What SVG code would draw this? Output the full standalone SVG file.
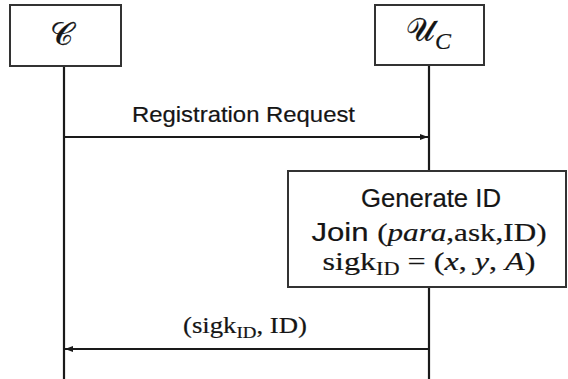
<svg xmlns="http://www.w3.org/2000/svg" width="568" height="379" viewBox="0 0 568 379">
  <style>
    .box{fill:#ffffff;stroke:#333333;stroke-width:2}
    .life{stroke:#1a1a1a;stroke-width:2.2;fill:none}
    .msg{stroke:#1a1a1a;stroke-width:2;fill:none}
    .sans{font-family:"Liberation Sans",Arial,sans-serif;fill:#151515;stroke:#151515;stroke-width:0.2}
    .serif{font-family:"Liberation Serif","DejaVu Serif",serif;fill:#151515;stroke:#151515;stroke-width:0.2}
    .math{font-family:"DejaVu Serif","DejaVu Sans",serif;fill:#151515;stroke:#151515;stroke-width:0.3}
    .it{font-style:italic}
  </style>
  <defs>
    <marker id="ah" markerWidth="8" markerHeight="6" refX="8" refY="3" orient="auto" markerUnits="userSpaceOnUse">
      <path d="M0,0 L8,3 L0,6 z" fill="#1a1a1a"/>
    </marker>
  </defs>

  <rect width="568" height="379" fill="#ffffff"/>

  <!-- lifelines -->
  <g id="lifelines">
    <line class="life" x1="64" y1="66" x2="64" y2="379"/>
    <line class="life" x1="429" y1="65" x2="429" y2="171"/>
    <line class="life" x1="429" y1="287" x2="429" y2="379"/>
  </g>

  <!-- participant C -->
  <g id="node-c">
    <rect class="box" x="10" y="5" width="111" height="61"/>
    <text class="math" x="61" y="45" font-size="32" text-anchor="middle">𝒞</text>
  </g>

  <!-- participant U_C -->
  <g id="node-uc">
    <rect class="box" x="375" y="5" width="109" height="60"/>
    <text x="406" y="41" font-size="32"><tspan class="math">𝒰</tspan><tspan class="serif it" font-size="24" dy="8">C</tspan></text>
  </g>

  <!-- local computation on U_C -->
  <g id="node-generate">
    <rect class="box" x="288" y="171" width="278" height="116"/>
    <text class="sans" x="431" y="207" font-size="25" text-anchor="middle" textLength="140" lengthAdjust="spacingAndGlyphs">Generate ID</text>
    <text x="429" y="241" font-size="25" text-anchor="middle" textLength="235" lengthAdjust="spacingAndGlyphs"><tspan class="sans">Join </tspan><tspan class="serif">(</tspan><tspan class="serif it">para</tspan><tspan class="serif">,ask,ID)</tspan></text>
    <text class="serif" x="429" y="270" font-size="26" text-anchor="middle" textLength="213" lengthAdjust="spacingAndGlyphs">sigk<tspan font-size="18" dy="5">ID</tspan><tspan dy="-5"> = (</tspan><tspan class="it">x</tspan>, <tspan class="it">y</tspan>, <tspan class="it">A</tspan>)</text>
  </g>

  <!-- messages -->
  <g id="connectors">
    <line class="msg" x1="64" y1="137" x2="428" y2="137" marker-end="url(#ah)"/>
    <text class="sans" x="243.5" y="122" font-size="22" text-anchor="middle" textLength="223" lengthAdjust="spacingAndGlyphs">Registration Request</text>
    <line class="msg" x1="429" y1="349" x2="65" y2="349" marker-end="url(#ah)"/>
    <text class="serif" x="245" y="333" font-size="24" text-anchor="middle" textLength="124" lengthAdjust="spacingAndGlyphs">(sigk<tspan font-size="17" dy="5">ID</tspan><tspan dy="-5">, ID)</tspan></text>
  </g>
</svg>
